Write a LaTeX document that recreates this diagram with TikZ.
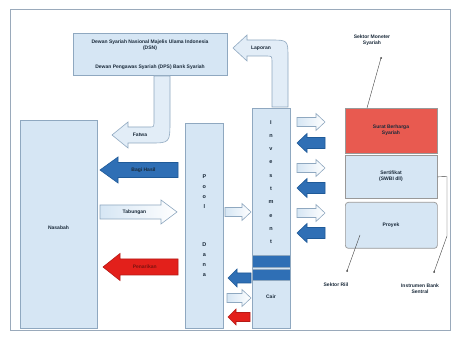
\documentclass[tikz,border=0pt]{standalone}
\usepackage{fontspec}
\setmainfont{Liberation Sans}
\definecolor{boxfill}{HTML}{D6E6F4}
\definecolor{boxline}{HTML}{8FA8C0}
\definecolor{arrblue}{HTML}{2F6FB5}
\definecolor{arrblueline}{HTML}{1F5A98}
\definecolor{arrred}{HTML}{E3201B}
\definecolor{redbox}{HTML}{E85A50}
\definecolor{framecol}{HTML}{9AAABB}
\definecolor{txtcol}{HTML}{1A2A3A}
% #1 name, #2 style, #3 tip x, #4 tail x, #5 y, #6 body half, #7 head half, #8 head length, #9 text
\newcommand{\blockarr}[9]{%
  \pgfmathsetmacro{\hbx}{#3+sign(#4-#3)*#8}%
  \draw[#2] (#3,#5) -- (\hbx,#5-#7) -- (\hbx,#5-#6) -- (#4,#5-#6) -- (#4,#5+#6)
     -- (\hbx,#5+#6) -- (\hbx,#5+#7) -- cycle;
  \node[lbl] (#1) at ({(#3+#4)/2+sign(#4-#3)*#8/4},#5) {#9};%
}
\begin{document}
\begin{tikzpicture}[x=1pt,y=-1pt,
  box/.style={draw=boxline, fill=boxfill, line width=0.7pt, inner sep=0pt, anchor=north west},
  lbl/.style={font=\fontsize{5}{6}\selectfont\bfseries, text=txtcol, align=center, inner sep=0.5pt},
  whitearr/.style={draw=boxline, line width=0.6pt, left color=boxfill, right color=white},
  bluearr/.style={draw=arrblueline, line width=0.6pt, fill=arrblue},
  redarr/.style={draw=arrred!80!black, line width=0.6pt, fill=arrred},
  pointer/.style={draw=black!75, line width=0.4pt},
  bentarr/.style={draw=boxline, fill=boxfill!70!white, line width=0.6pt}
]
\useasboundingbox[fill=white] (0,0) rectangle (459,345);
\draw[framecol, line width=0.6pt] (10,9) rectangle (450,330);

% top authority box
\node[box, minimum width=154pt, minimum height=42pt] (top) at (73,33) {};
\node[lbl] (toptxt1) at (150,45) {Dewan Syariah Nasional Majelis Ulama Indonesia\\(DSN)};
\node[lbl] (toptxt2) at (150,67) {Dewan Pengawas Syariah (DPS) Bank Syariah};

% main boxes
\node[box, minimum width=77pt, minimum height=208pt] (nasabah) at (20,120) {};
\node[lbl] (nasabahtxt) at (58.5,228) {Nasabah};
\node[box, minimum width=38pt, minimum height=205pt, font=\fontsize{5.5}{10}\selectfont\bfseries,
      text=txtcol, align=center] (pool) at (185,123) {P\\o\\o\\l\\[28pt]D\\a\\n\\a};
\node[box, minimum width=38pt, minimum height=220pt] (inv) at (252,108) {};
\node[font=\fontsize{5.5}{13.3}\selectfont\bfseries, text=txtcol, align=center, inner sep=0pt]
      (invtxt) at (271,182) {I\\n\\v\\e\\s\\t\\m\\e\\n\\t};
\node[box, fill=arrblue, draw=boxline, minimum width=38pt, minimum height=12pt] (band1) at (252,255) {};
\node[box, fill=arrblue, draw=boxline, minimum width=38pt, minimum height=11pt] (band2) at (252,269) {};
\node[lbl] (cair) at (271,297) {Cair};

% right stack
\node[box, fill=redbox, minimum width=92pt, minimum height=45pt, draw=black!40] (sbs) at (345,108) {};
\node[lbl] (sbstxt) at (391,130.5) {Surat Berharga\\Syariah};
\node[box, minimum width=92pt, minimum height=43pt, draw=black!40] (swbi) at (345,155) {};
\node[lbl] (swbitxt) at (391,176.5) {Sertifikat\\(SWBI dll)};
\node[box, minimum width=92pt, minimum height=46pt, rounded corners=3pt, draw=black!40] (riil) at (345,202) {};
\node[lbl] (riiltxt) at (391,225) {Proyek};

% bent arrows
\draw[bentarr] (170,76) -- (170,120) .. controls (170,143) .. (150,143) -- (128,143) -- (128,148)
   -- (112,135) -- (128,122) -- (128,127) -- (150,127) .. controls (154,127) .. (154,120) -- (154,76) -- cycle;
\node[lbl] (fatwa) at (140,135) {Fatwa};
\draw[bentarr] (272,107) -- (272,62) .. controls (272,56) .. (266,56) -- (247,56) -- (247,61)
   -- (233,48) -- (247,35) -- (247,40) -- (270,40) .. controls (288,40) .. (288,58) -- (288,107) -- cycle;
\node[lbl] (laporan) at (261,48) {Laporan};

% big arrows between Nasabah and Pool Dana
\blockarr{bagihasil}{bluearr}{100}{178}{170}{7.5}{13}{18}{Bagi Hasil}
\blockarr{tabungan}{whitearr}{177}{100}{212}{7}{12}{16}{Tabungan}
\blockarr{penarikan}{redarr}{103}{178}{267}{8}{13.5}{17}{\textcolor{arrred!55!black}{Penarikan}}

% small arrows between Pool Dana and Investment
\blockarr{pi1}{whitearr}{251}{225}{212}{4.5}{8.5}{9}{}
\blockarr{pi2}{bluearr}{228}{251}{278}{5}{9}{9}{}
\blockarr{pi3}{whitearr}{251}{227}{298}{4.5}{8.5}{9}{}
\blockarr{pi4}{redarr}{228}{250}{317}{4.5}{8}{8}{}

% small arrows between Investment and right stack
\blockarr{ir1}{whitearr}{325}{297}{122}{4.5}{8.5}{9}{}
\blockarr{ir2}{bluearr}{297}{325}{143}{5.5}{9.5}{10}{}
\blockarr{ir3}{whitearr}{325}{297}{168}{4.5}{8.5}{9}{}
\blockarr{ir4}{bluearr}{297}{325}{188}{5.5}{9.5}{10}{}
\blockarr{ir5}{whitearr}{325}{297}{213}{4.5}{8.5}{9}{}
\blockarr{ir6}{bluearr}{297}{325}{233}{5.5}{9.5}{10}{}

% callout labels
\node[lbl] (moneter) at (372,40) {Sektor Moneter\\Syariah};
\coordinate (mdot) at (381,58);
\coordinate (mend) at (367,108);
\draw[pointer] (mdot) -- (mend);
\fill[black!75] (mdot) circle (1pt);

\node[lbl] (sektorriil) at (336,285) {Sektor Riil};
\coordinate (rdot) at (347,271);
\coordinate (rend) at (360,235);
\draw[pointer] (rdot) -- (rend);
\fill[black!75] (rdot) circle (1pt);

\node[lbl] (instrumen) at (420,289) {Instrumen Bank\\Sentral};
\coordinate (idot) at (434,272);
\draw[pointer] (swbi.east) -- (447,176.5) -- (447,236) -- (idot);
\fill[black!75] (idot) circle (1pt);
\end{tikzpicture}
\end{document}
